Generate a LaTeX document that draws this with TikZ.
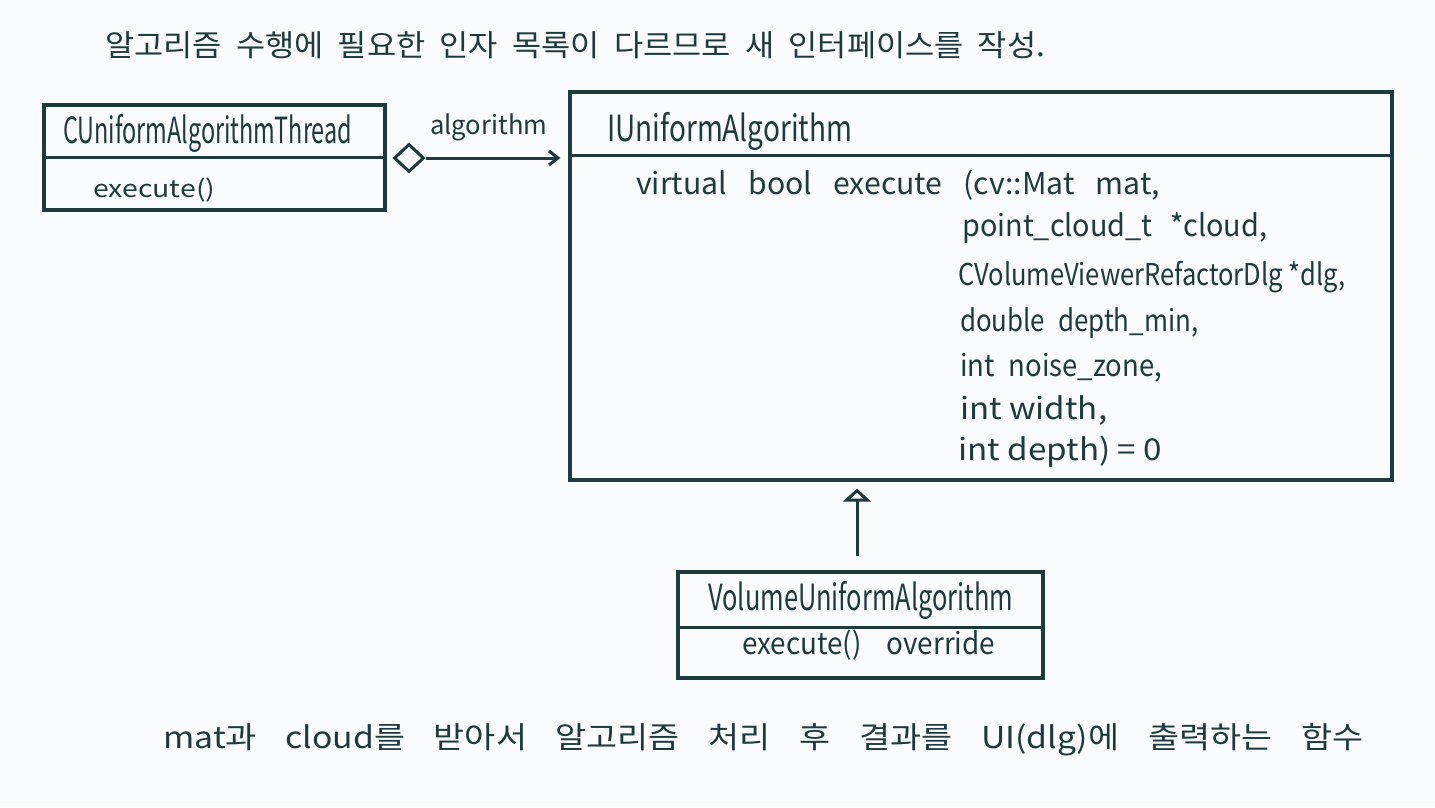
\documentclass[tikz,border=0pt]{standalone}
\usepackage{fontspec}
\setmainfont{Noto Sans CJK KR}
\usetikzlibrary{arrows.meta,shapes.geometric}
\definecolor{ink}{HTML}{1D3A40}
\definecolor{paper}{HTML}{FAFBFC}
\newcommand\fitw[2]{\resizebox{#1}{\height}{#2}}
\tikzset{
  classbox/.style={draw=ink, line width=3.2pt, rectangle, inner sep=0pt},
  divider/.style={draw=ink, line width=3pt},
  lbl/.style={inner sep=0pt, anchor=west, text=ink},
  big/.style={lbl, font=\fontsize{36}{36}\selectfont},
  mid/.style={lbl, font=\fontsize{30}{30}\selectfont},
  small/.style={lbl, font=\fontsize{24}{24}\selectfont},
  kor/.style={lbl, font=\fontsize{30}{30}\selectfont},
  conn/.style={draw=ink, line width=3pt},
}
\begin{document}
\begin{tikzpicture}[x=1pt,y=-1pt]
\fill[paper] (0,0) rectangle (1435,807);
\useasboundingbox (0,0) rectangle (1435,807);

% top note
\node[kor] (note) at (105,45) {\fitw{940pt}{\spaceskip=0.45em 알고리즘 수행에 필요한 인자 목록이 다르므로 새 인터페이스를 작성.}};

% left class
\node[classbox, minimum width=341pt, minimum height=105pt] (thread) at (214.5,157.5) {};
\draw[divider] (thread.west |- 0,157) -- (thread.east |- 0,157);
\node[big] (threadname) at (63,133) {\fitw{289pt}{CUniformAlgorithmThread}};
\node[small] (threadop) at (93,190) {\fitw{122pt}{execute()}};

% interface
\node[classbox, minimum width=822pt, minimum height=388pt] (iface) at (981,286) {};
\draw[divider] (iface.west |- 0,155) -- (iface.east |- 0,155);
\node[big] (ifacename) at (607,131) {\fitw{245pt}{IUniformAlgorithm}};
\node[mid] (p0) at (636,185) {\fitw{524pt}{\spaceskip=0.7em virtual bool execute (cv::Mat mat,}};
\node[mid] (p1) at (962,228) {\fitw{305pt}{\spaceskip=0.6em point\_cloud\_t *cloud,}};
\node[mid] (p2) at (958,277) {\fitw{387pt}{CVolumeViewerRefactorDlg *dlg,}};
\node[mid] (p3) at (960,323) {\fitw{238pt}{\spaceskip=0.5em double depth\_min,}};
\node[mid] (p4) at (960,368) {\fitw{202pt}{\spaceskip=0.5em int noise\_zone,}};
\node[mid] (p5) at (960,410) {\fitw{147pt}{int width,}};
\node[mid] (p6) at (958,452) {\fitw{204pt}{int depth) = 0}};

% subclass
\node[classbox, minimum width=365pt, minimum height=106pt] (sub) at (860.5,625) {};
\draw[divider] (sub.west |- 0,627) -- (sub.east |- 0,627);
\node[big] (subname) at (708,600) {\fitw{305pt}{VolumeUniformAlgorithm}};
\node[mid] (subop) at (742,645) {\fitw{253pt}{\spaceskip=0.9em execute() override}};

% aggregation
\node[draw=ink, line width=3pt, diamond, inner sep=0pt, minimum width=30pt, minimum height=28pt, fill=paper] (dia) at (409,158) {};
\draw[conn, -{Straight Barb[length=9pt,width=14pt,line width=3pt]}, shorten >=8pt] (dia.east) -- (dia -| iface.west);
\node[lbl, font=\fontsize{26}{26}\selectfont] (agg) at (430,127) {\fitw{117pt}{algorithm}};

% inheritance
\draw[conn, -{Triangle[open, length=13pt, width=28pt, line width=3pt]}, shorten <=14pt, shorten >=7pt] (sub.north -| 857,0) -- (iface.south -| 857,0);

% bottom note
\node[kor] (desc) at (163,740) {\fitw{1200pt}{\spaceskip=0.85em mat과 cloud를 받아서 알고리즘 처리 후 결과를 UI(dlg)에 출력하는 함수}};
\end{tikzpicture}
\end{document}
